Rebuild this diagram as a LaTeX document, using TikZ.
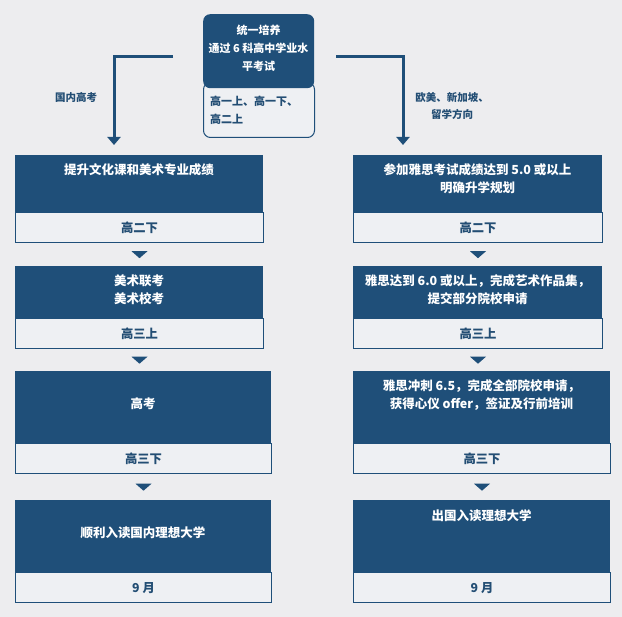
\documentclass[tikz,border=0pt]{standalone}
\usepackage{fontspec}
\setmainfont{Noto Sans CJK SC}
\usetikzlibrary{calc,arrows.meta}
\definecolor{dblue}{HTML}{1F4F79}
\definecolor{tblue}{HTML}{234E74}
\definecolor{bgc}{HTML}{EDEDEF}
\definecolor{lightc}{HTML}{EEF0F3}
\tikzset{
  darkbox/.style={fill=dblue, draw=none, inner sep=0pt, anchor=north west, minimum width=#1},
  lightbox/.style={fill=lightc, draw=dblue, line width=1pt, inner sep=0pt, anchor=north west,
     minimum width=#1, minimum height=30pt, text=tblue, font=\fontsize{12.3}{18}\selectfont\bfseries},
  wtext/.style={text=white, align=center, inner sep=0pt, font=\fontsize{12.5}{18}\selectfont\bfseries},
  lbl/.style={text=tblue, align=center, inner sep=0pt, font=\fontsize{10.5}{17}\selectfont\bfseries},
  conn/.style={draw=dblue, line width=3pt, -{Triangle[width=13pt,length=8pt]}},
  marker/.style={fill=dblue}
}
\newcommand{\tri}[2]{%
  \path let \p1=(#1.south), \p2=(#2.north) in
    coordinate (tmpc) at (\x1,{0.5*(\y1+\y2)});
  \fill[marker] ($(tmpc)+(-8,-3.5)$) -- ++(16,0) -- ++(-8,7) -- cycle;
}
\begin{document}
\begin{tikzpicture}[x=1pt,y=-1pt]
\useasboundingbox[fill=bgc] (0,0) rectangle (622,617);

% top box
\node[fill=lightc, draw=dblue, line width=1pt, rounded corners=7pt, anchor=north west,
      minimum width=111pt, minimum height=55pt, inner sep=0pt] (S) at (203,82) {};
\node[fill=dblue, rounded corners=7pt, anchor=north west, minimum width=111pt,
      minimum height=74pt, inner sep=0pt] (T) at (203,14) {};
\node[wtext, font=\fontsize{11}{18}\selectfont\bfseries] (Tt) at (258.5,48) {统一培养\\通过 6 科高中学业水\\平考试};
\node[lbl, align=left, anchor=west, font=\fontsize{11}{18}\selectfont\bfseries] (St) at (210,110) {高一上、高一下、\\高二上};

% connectors
\coordinate (la) at (173,57);
\coordinate (lend) at (114,145);
\coordinate (ra) at (336,57);
\coordinate (rend) at (403,145);
\draw[conn] (la) -- (lend |- la) -- (lend);
\draw[conn] (ra) -- (rend |- ra) -- (rend);
\node[lbl] (ll) at (76,97) {国内高考};
\node[lbl] (rl) at (452,106) {欧美、新加坡、\\留学方向};

% left column
\node[darkbox=248pt, minimum height=57pt] (L1) at (15,155) {};
\node[lightbox=248pt] (L1t) at (L1.south west) {高二下};
\node[wtext] at (139,170) {提升文化课和美术专业成绩};

\node[darkbox=248pt, minimum height=52pt] (L2) at (15,266) {};
\node[lightbox=248pt] (L2t) at (L2.south west) {高三上};
\node[wtext] at (139,290) {美术联考\\美术校考};

\node[darkbox=256pt, minimum height=72pt] (L3) at (15,371) {};
\node[lightbox=256pt] (L3t) at (L3.south west) {高三下};
\node[wtext] at (143,404) {高考};

\node[darkbox=256pt, minimum height=72pt] (L4) at (15,500) {};
\node[lightbox=256pt] (L4t) at (L4.south west) {9 月};
\node[wtext] at (143,533) {顺利入读国内理想大学};

% right column
\node[darkbox=249pt, minimum height=57pt] (R1) at (353,155) {};
\node[lightbox=249pt] (R1t) at (R1.south west) {高二下};
\node[wtext] at (477.5,179) {参加雅思考试成绩达到 5.0 或以上\\明确升学规划};

\node[darkbox=249pt, minimum height=52pt] (R2) at (353,266) {};
\node[lightbox=249pt] (R2t) at (R2.south west) {高三上};
\node[wtext] at (477.5,290) {雅思达到 6.0 或以上，完成艺术作品集，\\提交部分院校申请};

\node[darkbox=257pt, minimum height=72pt] (R3) at (353,371) {};
\node[lightbox=257pt] (R3t) at (R3.south west) {高三下};
\node[wtext] at (481.5,395) {雅思冲刺 6.5，完成全部院校申请，\\获得心仪 offer，签证及行前培训};

\node[darkbox=257pt, minimum height=72pt] (R4) at (353,500) {};
\node[lightbox=257pt] (R4t) at (R4.south west) {9 月};
\node[wtext] at (481.5,516) {出国入读理想大学};

% markers
\tri{L1t}{L2}
\tri{L2t}{L3}
\tri{L3t}{L4}
\tri{R1t}{R2}
\tri{R2t}{R3}
\tri{R3t}{R4}
\end{tikzpicture}
\end{document}
